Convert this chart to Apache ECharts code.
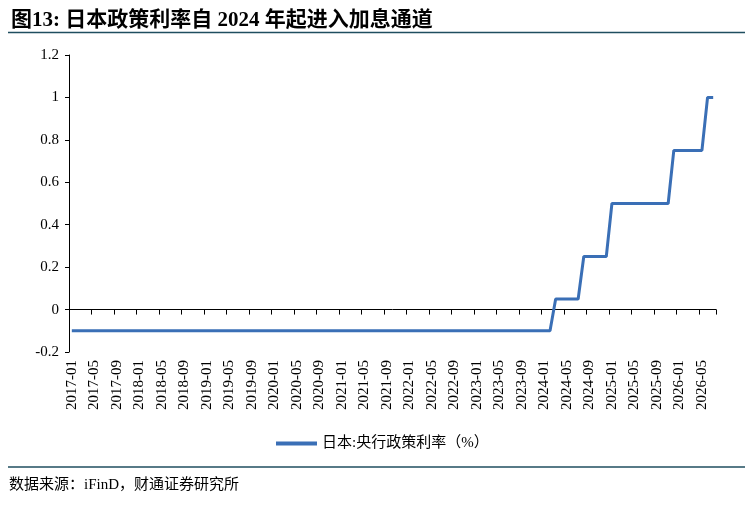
<!DOCTYPE html>
<html>
<head>
<meta charset="utf-8">
<script src="https://cdn.jsdelivr.net/npm/echarts@6/dist/echarts.min.js"></script>
<style>
html,body{margin:0;padding:0;background:#fff;}
#chart{width:752px;height:505px;}
</style>
</head>
<body>
<div id="chart"></div>
<script>
const titleText = '图13: 日本政策利率自 2024 年起进入加息通道';
const sourceText = '数据来源：iFinD，财通证券研究所';
const seriesName = '日本:央行政策利率（%）';

const months = [
  '2017-01','2017-02','2017-03','2017-04','2017-05','2017-06','2017-07','2017-08','2017-09','2017-10','2017-11','2017-12',
  '2018-01','2018-02','2018-03','2018-04','2018-05','2018-06','2018-07','2018-08','2018-09','2018-10','2018-11','2018-12',
  '2019-01','2019-02','2019-03','2019-04','2019-05','2019-06','2019-07','2019-08','2019-09','2019-10','2019-11','2019-12',
  '2020-01','2020-02','2020-03','2020-04','2020-05','2020-06','2020-07','2020-08','2020-09','2020-10','2020-11','2020-12',
  '2021-01','2021-02','2021-03','2021-04','2021-05','2021-06','2021-07','2021-08','2021-09','2021-10','2021-11','2021-12',
  '2022-01','2022-02','2022-03','2022-04','2022-05','2022-06','2022-07','2022-08','2022-09','2022-10','2022-11','2022-12',
  '2023-01','2023-02','2023-03','2023-04','2023-05','2023-06','2023-07','2023-08','2023-09','2023-10','2023-11','2023-12',
  '2024-01','2024-02','2024-03','2024-04','2024-05','2024-06','2024-07','2024-08','2024-09','2024-10','2024-11','2024-12',
  '2025-01','2025-02','2025-03','2025-04','2025-05','2025-06','2025-07','2025-08','2025-09','2025-10','2025-11','2025-12',
  '2026-01','2026-02','2026-03','2026-04','2026-05','2026-06','2026-07'
];

const policyRate = [
  -0.1,-0.1,-0.1,-0.1,-0.1,-0.1,-0.1,-0.1,-0.1,-0.1,-0.1,-0.1,
  -0.1,-0.1,-0.1,-0.1,-0.1,-0.1,-0.1,-0.1,-0.1,-0.1,-0.1,-0.1,
  -0.1,-0.1,-0.1,-0.1,-0.1,-0.1,-0.1,-0.1,-0.1,-0.1,-0.1,-0.1,
  -0.1,-0.1,-0.1,-0.1,-0.1,-0.1,-0.1,-0.1,-0.1,-0.1,-0.1,-0.1,
  -0.1,-0.1,-0.1,-0.1,-0.1,-0.1,-0.1,-0.1,-0.1,-0.1,-0.1,-0.1,
  -0.1,-0.1,-0.1,-0.1,-0.1,-0.1,-0.1,-0.1,-0.1,-0.1,-0.1,-0.1,
  -0.1,-0.1,-0.1,-0.1,-0.1,-0.1,-0.1,-0.1,-0.1,-0.1,-0.1,-0.1,
  -0.1,-0.1,0.05,0.05,0.05,0.05,0.05,0.25,0.25,0.25,0.25,0.25,
  0.5,0.5,0.5,0.5,0.5,0.5,0.5,0.5,0.5,0.5,0.5,0.75,
  0.75,0.75,0.75,0.75,0.75,1,1
];

const yMin = -0.2, yMax = 1.2, yStep = 0.2;

const serif = '"Liberation Serif", "Noto Sans CJK SC", serif';
const chart = echarts.init(document.getElementById('chart'), null, {renderer: 'canvas'});

chart.setOption({
  animation: false,
  backgroundColor: '#fff',
  title: {
    text: titleText,
    left: 6,
    top: 5,
    textStyle: {fontFamily: serif, fontSize: 21, fontWeight: 'bold', color: '#000'}
  },
  graphic: [
    {type: 'line', shape: {x1: 8, y1: 32.5, x2: 745, y2: 32.5}, style: {stroke: '#1f4e5f', lineWidth: 1.5}},
    {type: 'line', shape: {x1: 8, y1: 467, x2: 745, y2: 467}, style: {stroke: '#1f4e5f', lineWidth: 1.5}},
    {type: 'text', left: 9, top: 478, style: {text: sourceText, font: '15px "Liberation Serif", "Noto Sans CJK SC", serif', fill: '#000'}}
  ],
  legend: {
    left: 271,
    top: 431,
    icon: 'rect',
    itemWidth: 41,
    itemHeight: 4,
    itemGap: 10,
    textStyle: {fontFamily: serif, fontSize: 15, color: '#000'},
    data: [seriesName]
  },
  grid: {left: 69, right: 36, top: 55, bottom: 153},
  xAxis: [
    {
      type: 'category',
      data: months,
      boundaryGap: true,
      position: 'bottom',
      axisLine: {show: false, onZero: false},
      axisTick: {show: false},
      axisLabel: {interval: 3, rotate: 90, margin: 8, fontFamily: serif, fontSize: 15, color: '#000'}
    },
    {
      type: 'category',
      data: months,
      boundaryGap: true,
      position: 'bottom',
      axisLine: {show: true, onZero: true, lineStyle: {color: '#000', width: 1}},
      axisTick: {show: true, interval: 3, length: 5, lineStyle: {color: '#000', width: 1}},
      axisLabel: {show: false}
    }
  ],
  yAxis: {
    type: 'value',
    min: yMin,
    max: yMax,
    interval: yStep,
    axisLine: {show: true, lineStyle: {color: '#000', width: 1}},
    axisTick: {show: true, length: 4, lineStyle: {color: '#000'}},
    splitLine: {show: false},
    axisLabel: {
      margin: 10,
      fontFamily: serif,
      fontSize: 15,
      color: '#000',
      formatter: v => String(+v.toFixed(1))
    }
  },
  series: [{
    name: seriesName,
    type: 'line',
    xAxisIndex: 0,
    yAxisIndex: 0,
    data: policyRate,
    showSymbol: false,
    symbol: 'none',
    lineStyle: {color: '#3a6fb6', width: 3},
    itemStyle: {color: '#3a6fb6'}
  }]
});
</script>
</body>
</html>
